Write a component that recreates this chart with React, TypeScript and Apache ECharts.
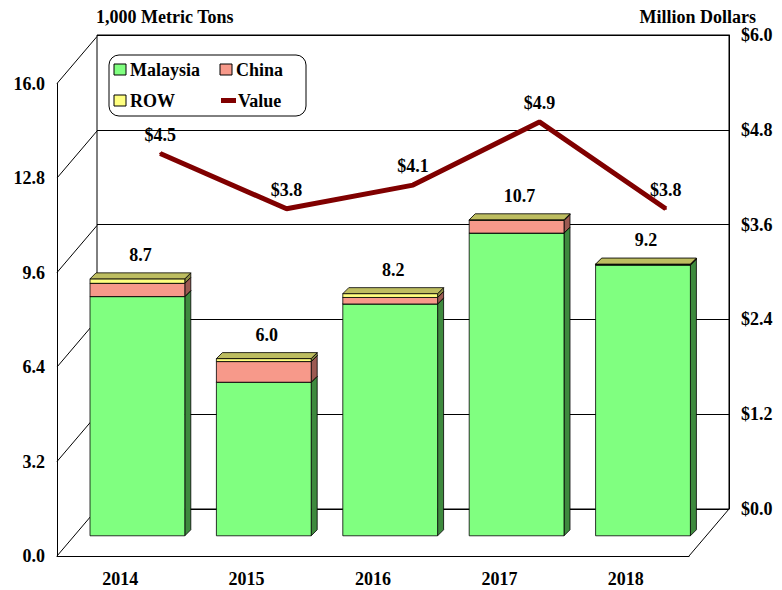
import React, { useEffect, useRef } from "react";
import * as echarts from "echarts";

const years = ["2014", "2015", "2016", "2017", "2018"];
const malaysia = [8.1, 5.2, 7.85, 10.25, 9.17];
const china = [0.45, 0.7, 0.22, 0.43, 0.02];
const row = [0.15, 0.1, 0.13, 0.02, 0.01];
const value = [4.5, 3.8, 4.1, 4.9, 3.8];
const leftTicks = [0, 3.2, 6.4, 9.6, 12.8, 16];

const FONT = "'Liberation Serif', 'Times New Roman', serif";
const DX = 40;
const DY = -47;
const BAR_F = 0.43;
const D = 6;

const totals = years.map((_, i) => malaysia[i] + china[i] + row[i]);

function makeBarRender(front: string, side: string, top: string, withLabel: boolean) {
  return (params: any, api: any) => {
    const i = api.value(0);
    const base = api.value(1);
    const topV = api.value(2);
    const pB = api.coord([i, base]);
    const pT = api.coord([i, topV]);
    const band = api.size([1, 0])[0];
    const w = band * 0.75;
    const ox = DX * BAR_F;
    const oy = DY * BAR_F;
    const bx = pB[0] - w / 2 + ox;
    const y0 = pB[1] + oy;
    const y1 = pT[1] + oy;
    const stroke = { stroke: "#000", lineWidth: 0.8 };
    const children: any[] = [
      {
        type: "polygon",
        shape: { points: [[bx + w, y1], [bx + w + D, y1 - D], [bx + w + D, y0 - D], [bx + w, y0]] },
        style: { fill: side, ...stroke },
      },
      {
        type: "rect",
        shape: { x: bx, y: y1, width: w, height: y0 - y1 },
        style: { fill: front, ...stroke },
      },
      {
        type: "polygon",
        shape: { points: [[bx, y1], [bx + D, y1 - D], [bx + w + D, y1 - D], [bx + w, y1]] },
        style: { fill: top, ...stroke },
      },
    ];
    if (withLabel) {
      children.push({
        type: "text",
        x: bx + w / 2 + D / 2,
        y: y1 - D - 9,
        style: {
          text: totals[params.dataIndex].toFixed(1),
          fontFamily: FONT,
          fontWeight: "bold",
          fontSize: 18,
          fill: "#000",
          align: "center",
          verticalAlign: "bottom",
        },
      });
    }
    return { type: "group", children };
  };
}

export default function App() {
  const ref = useRef<HTMLDivElement>(null);
  useEffect(() => {
    if (!ref.current) return;
    const chart = echarts.init(ref.current, null, { renderer: "svg" });
    const mData = years.map((_, i) => [i, 0, malaysia[i]]);
    const cData = years.map((_, i) => [i, malaysia[i], malaysia[i] + china[i]]);
    const rData = years.map((_, i) => [i, malaysia[i] + china[i], totals[i]]);
    const textBase = { fontFamily: FONT, fontWeight: "bold" as const, fontSize: 18, color: "#000" };

    chart.setOption({
      animation: false,
      backgroundColor: "#fff",
      title: [
        { text: "1,000 Metric Tons", left: 96, top: 8, padding: 0, textStyle: { ...textBase, fontSize: 18 } },
        { text: "Million Dollars", right: 26, top: 8, padding: 0, textStyle: { ...textBase, fontSize: 18 } },
      ],
      grid: [
        { left: 97, top: 35, width: 632, height: 474, show: true, borderColor: "#000", borderWidth: 1, backgroundColor: "transparent" },
        { left: 57, top: 83.5, width: 632, height: 472.5, show: false },
      ],
      xAxis: [
        { type: "category", gridIndex: 0, data: years, show: false },
        {
          type: "category",
          gridIndex: 1,
          data: years,
          axisLine: { show: true, lineStyle: { color: "#000", width: 1 } },
          axisTick: { show: false },
          axisLabel: { ...textBase, margin: 14 },
        },
      ],
      yAxis: [
        {
          type: "value",
          gridIndex: 0,
          position: "right",
          min: 0,
          max: 6,
          interval: 1.2,
          axisLine: { show: true, lineStyle: { color: "#000", width: 1 } },
          axisTick: { show: false },
          splitLine: { show: true, lineStyle: { color: "#000", width: 1 } },
          axisLabel: { ...textBase, margin: 12, formatter: (v: number) => "$" + v.toFixed(1) },
        },
        {
          type: "value",
          gridIndex: 1,
          position: "left",
          min: 0,
          max: 16,
          interval: 3.2,
          axisLine: { show: true, lineStyle: { color: "#000", width: 1 } },
          axisTick: { show: false },
          splitLine: { show: false },
          axisLabel: { ...textBase, margin: 12, formatter: (v: number) => v.toFixed(1) },
        },
      ],
      series: [
        {
          type: "custom",
          name: "walls",
          xAxisIndex: 1,
          yAxisIndex: 1,
          silent: true,
          z: 1,
          data: leftTicks.map((t) => [0, t]),
          encode: { x: 0, y: 1 },
          renderItem: (params: any, api: any) => {
            const y = api.coord([0, api.value(1)])[1];
            const cs = params.coordSys;
            const x0 = cs.x;
            const children: any[] = [
              { type: "line", shape: { x1: x0, y1: y, x2: x0 + DX, y2: y + DY }, style: { stroke: "#000", lineWidth: 1 } },
            ];
            if (params.dataIndex === 0) {
              const xr = cs.x + cs.width;
              children.push({ type: "line", shape: { x1: xr, y1: y, x2: xr + DX, y2: y + DY }, style: { stroke: "#000", lineWidth: 1 } });
            }
            return { type: "group", children };
          },
        },
        {
          type: "custom",
          name: "Malaysia",
          xAxisIndex: 1,
          yAxisIndex: 1,
          z: 3,
          data: mData,
          encode: { x: 0, y: 2 },
          renderItem: makeBarRender("#80FF80", "#3E8A3E", "#5FBF5F", false),
        },
        {
          type: "custom",
          name: "China",
          xAxisIndex: 1,
          yAxisIndex: 1,
          z: 3,
          data: cData,
          encode: { x: 0, y: 2 },
          renderItem: makeBarRender("#F7998A", "#9C5A52", "#BF7368", false),
        },
        {
          type: "custom",
          name: "ROW",
          xAxisIndex: 1,
          yAxisIndex: 1,
          z: 3,
          data: rData,
          encode: { x: 0, y: 2 },
          renderItem: makeBarRender("#FFFF80", "#8C8C45", "#BDBD60", true),
        },
        {
          type: "line",
          name: "Value",
          xAxisIndex: 0,
          yAxisIndex: 0,
          z: 6,
          data: value,
          symbol: "circle",
          symbolSize: 2,
          showSymbol: true,
          itemStyle: { color: "#800000" },
          lineStyle: { color: "#800000", width: 5 },
          label: {
            show: true,
            position: "top",
            distance: 9,
            ...textBase,
            formatter: (p: any) => "$" + Number(p.value).toFixed(1),
          },
        },
      ],
      graphic: [
        {
          type: "group",
          z: 20,
          children: [
            { type: "rect", shape: { x: 109, y: 55, width: 197, height: 61, r: 10 }, style: { fill: "#fff", stroke: "#000", lineWidth: 1 } },
            { type: "rect", shape: { x: 114, y: 64, width: 12, height: 11 }, style: { fill: "#80FF80", stroke: "#000", lineWidth: 1 } },
            { type: "text", x: 130, y: 70, style: { text: "Malaysia", fontFamily: FONT, fontWeight: "bold", fontSize: 18, fill: "#000", verticalAlign: "middle" } },
            { type: "rect", shape: { x: 220, y: 64, width: 12, height: 11 }, style: { fill: "#F7998A", stroke: "#000", lineWidth: 1 } },
            { type: "text", x: 236, y: 70, style: { text: "China", fontFamily: FONT, fontWeight: "bold", fontSize: 18, fill: "#000", verticalAlign: "middle" } },
            { type: "rect", shape: { x: 114, y: 95, width: 12, height: 11 }, style: { fill: "#FFFF80", stroke: "#000", lineWidth: 1 } },
            { type: "text", x: 130, y: 101, style: { text: "ROW", fontFamily: FONT, fontWeight: "bold", fontSize: 18, fill: "#000", verticalAlign: "middle" } },
            { type: "rect", shape: { x: 221, y: 98, width: 15, height: 5 }, style: { fill: "#800000" } },
            { type: "text", x: 238, y: 101, style: { text: "Value", fontFamily: FONT, fontWeight: "bold", fontSize: 18, fill: "#000", verticalAlign: "middle" } },
          ],
        },
      ],
    });
    return () => chart.dispose();
  }, []);
  return <div ref={ref} style={{ position: "fixed", left: 0, top: 0, width: 782, height: 590 }} />;
}
